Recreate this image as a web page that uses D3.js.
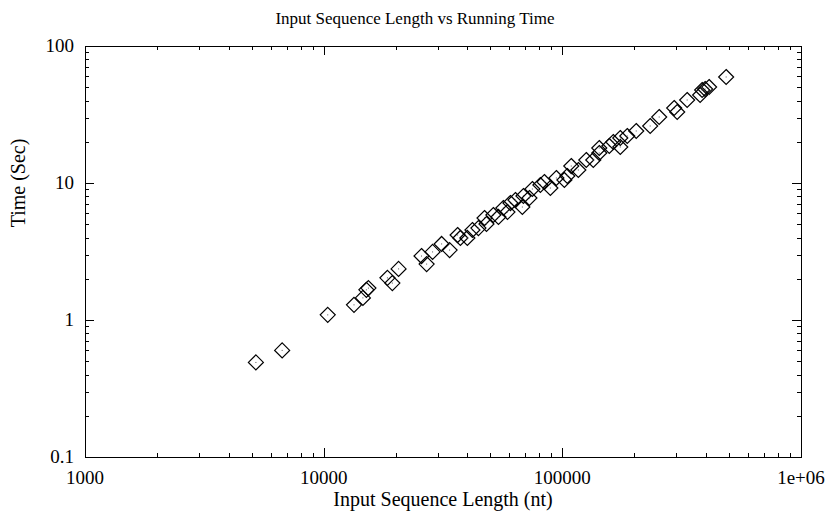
<!DOCTYPE html>
<html>
<head>
<meta charset="utf-8">
<script src="https://cdnjs.cloudflare.com/ajax/libs/d3/7.8.5/d3.min.js"></script>
<style>
  body { margin: 0; background: #fff; }
  text { font-family: "Liberation Serif", "DejaVu Serif", serif; fill: #000; }
</style>
</head>
<body>
<div id="chart"></div>
<script>
// sequence length (nt) and running time (sec)
var seqLength = [5200, 6700, 10400, 13400, 14600, 15100, 15400, 18500, 19400, 20600,
  25700, 27000, 28600, 31200, 33700, 36400, 37400, 40000, 42000, 44500,
  47200, 48100, 51400, 54000, 56600, 58900, 60600, 63600, 68000, 68700,
  72800, 74900, 80900, 84100, 89100, 94400, 102000, 104900, 109000, 116700,
  126000, 134800, 142800, 142800, 157300, 163500, 174900, 174900, 187100, 204000,
  233400, 254600, 294200, 302900, 333400, 377900, 385300, 396500, 412100, 485700];
var runTime = [0.49, 0.60, 1.09, 1.29, 1.45, 1.66, 1.71, 2.03, 1.86, 2.36,
  2.93, 2.56, 3.14, 3.59, 3.24, 4.17, 3.97, 3.97, 4.54, 4.69,
  5.55, 5.02, 5.84, 5.65, 6.57, 6.14, 7.14, 7.51, 6.68, 8.04,
  7.77, 9.04, 9.67, 10.17, 9.19, 10.88, 10.52, 11.25, 13.3, 12.44,
  14.72, 14.72, 16.56, 18.01, 18.63, 19.92, 18.32, 21.31, 22.03, 23.97,
  26.07, 30.32, 35.26, 32.98, 40.35, 43.88, 47.73, 48.54, 50.21, 59.4];

var xMajor = [1000, 10000, 100000, 1000000];
var xLabels = ["1000", "10000", "100000", "1e+06"];
var yMajor = [0.1, 1, 10, 100];
var yLabels = ["0.1", "1", "10", "100"];

var title = "Input Sequence Length vs Running Time";
var xTitle = "Input Sequence Length (nt)";
var yTitle = "Time (Sec)";

var W = 830, H = 513;
var margin = {top: 46, right: 29, bottom: 56, left: 85};
var width = W - margin.left - margin.right;
var height = H - margin.top - margin.bottom;

var x = d3.scaleLog().domain([1000, 1000000]).range([0, width]);
var y = d3.scaleLog().domain([0.1, 100]).range([height, 0]);

var svg = d3.select('#chart').append('svg')
    .attr('width', W)
    .attr('height', H);

var g = svg.append('g')
    .attr('transform', 'translate(' + margin.left + ',' + margin.top + ')');

// minor ticks 2..9 within each decade
function minors(lo, hi) {
  var out = [];
  for (var d = lo; d < hi; d *= 10) {
    for (var k = 2; k <= 9; k++) out.push(d * k);
  }
  return out;
}
var xMinor = minors(1000, 1000000);
var yMinor = minors(0.1, 100);

var majorLen = 9, minorLen = 4;
var ticks = g.append('g')
    .attr('stroke', '#000')
    .attr('stroke-width', 1)
    .attr('shape-rendering', 'crispEdges');

function xt(list, len) {
  list.forEach(function(v) {
    var px = Math.round(x(v)) + 0.5;
    ticks.append('line').attr('x1', px).attr('x2', px).attr('y1', height).attr('y2', height - len);
    ticks.append('line').attr('x1', px).attr('x2', px).attr('y1', 0).attr('y2', len);
  });
}
function yt(list, len) {
  list.forEach(function(v) {
    var py = Math.round(y(v)) + 0.5;
    ticks.append('line').attr('y1', py).attr('y2', py).attr('x1', 0).attr('x2', len);
    ticks.append('line').attr('y1', py).attr('y2', py).attr('x1', width).attr('x2', width - len);
  });
}
xt(xMajor, majorLen); xt(xMinor, minorLen);
yt(yMajor, majorLen); yt(yMinor, minorLen);

// frame
g.append('rect')
    .attr('x', 0.5).attr('y', 0.5)
    .attr('width', width).attr('height', height)
    .attr('fill', 'none')
    .attr('stroke', '#000')
    .attr('shape-rendering', 'crispEdges');

// tick labels
g.selectAll('.xlab')
    .data(xMajor)
    .enter().append('text')
    .attr('class', 'xlab')
    .attr('x', function(d) { return x(d); })
    .attr('y', height + 27)
    .attr('text-anchor', 'middle')
    .style('font-size', '19px')
    .text(function(d, i) { return xLabels[i]; });

g.selectAll('.ylab')
    .data(yMajor)
    .enter().append('text')
    .attr('class', 'ylab')
    .attr('x', -11)
    .attr('y', function(d) { return y(d) + 6; })
    .attr('text-anchor', 'end')
    .style('font-size', '19px')
    .text(function(d, i) { return yLabels[i]; });

// titles
svg.append('text')
    .attr('x', 415).attr('y', 24)
    .attr('text-anchor', 'middle')
    .style('font-size', '17px')
    .text(title);

svg.append('text')
    .attr('x', margin.left + width / 2).attr('y', 506)
    .attr('text-anchor', 'middle')
    .style('font-size', '20px')
    .text(xTitle);

svg.append('text')
    .attr('transform', 'translate(25,183) rotate(-90)')
    .attr('text-anchor', 'middle')
    .style('font-size', '20px')
    .text(yTitle);

// points: open diamonds with a centre dot
var r = 7.5;
var pts = g.append('g').selectAll('g')
    .data(seqLength)
    .enter().append('g')
    .attr('transform', function(d, i) {
      return 'translate(' + x(d) + ',' + y(runTime[i]) + ')';
    });

pts.append('path')
    .attr('d', 'M0,' + (-r) + 'L' + r + ',0L0,' + r + 'L' + (-r) + ',0Z')
    .attr('fill', 'none')
    .attr('stroke', '#000')
    .attr('stroke-width', 1.2);

pts.append('rect')
    .attr('x', -0.5).attr('y', -0.5)
    .attr('width', 1).attr('height', 1)
    .attr('fill', '#555');
</script>
</body>
</html>
